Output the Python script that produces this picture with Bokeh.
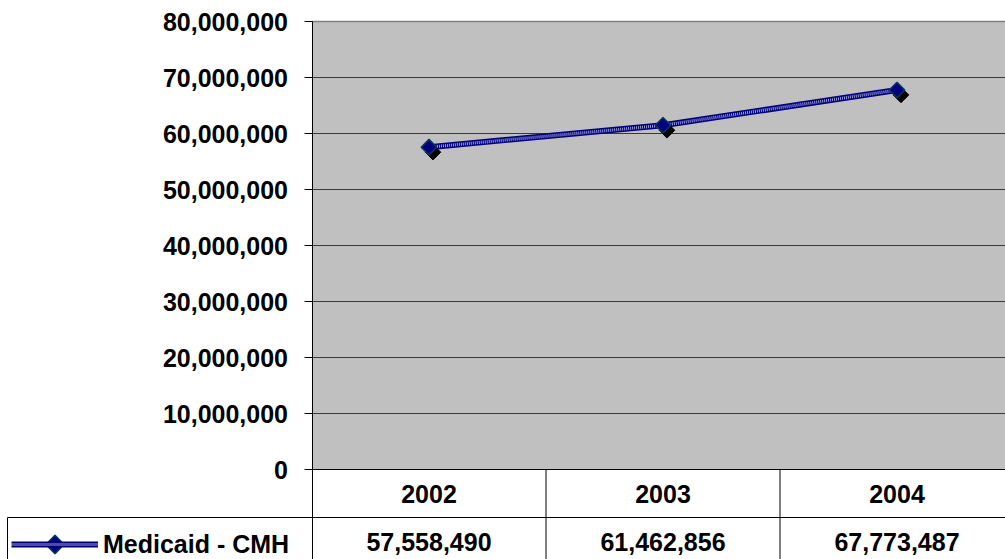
import numpy as np
from bokeh.plotting import figure
from bokeh.models import (Range1d, FixedTicker, NumeralTickFormatter, Legend,
                          LegendItem, ColumnDataSource)
from bokeh.transform import dodge
from bokeh.embed import file_html
from bokeh.resources import INLINE
from bokeh.core.properties import value

# ---------------- data ----------------
years = ["2002", "2003", "2004"]
medicaid_cmh = [57558490, 61462856, 67773487]
y_ticks = [0, 10000000, 20000000, 30000000, 40000000,
           50000000, 60000000, 70000000, 80000000]
series_name = "Medicaid - CMH"

# ---------------- layout constants ----------------
W, H = 1005, 559
TOP = 21                 # px of the 80M line
AXIS_X_PX = 311.5        # px of the value axis
CELL_W = 234.0           # px per category
PX_PER_VAL = 56 / 10_000_000
Y_TOP_TICK = y_ticks[-1]
ZERO_PX = TOP + Y_TOP_TICK * PX_PER_VAL
Y_MAX = ZERO_PX / PX_PER_VAL
Y_MIN = -(H - ZERO_PX) / PX_PER_VAL
X_MIN = -AXIS_X_PX / CELL_W
X_MAX = (W - AXIS_X_PX) / CELL_W


def py(pix):            # pixel row -> value coordinate
    return (ZERO_PX - pix) / PX_PER_VAL


def px(pix):            # pixel column -> category coordinate
    return (pix - AXIS_X_PX) / CELL_W


FONT = "Liberation Sans"
FS = "25px"
NAVY = "#000080"
n = len(years)
xc = [i + 0.5 for i in range(n)]

p = figure(width=W, height=H, x_range=Range1d(X_MIN, X_MAX),
           y_range=Range1d(Y_MIN, Y_MAX), output_backend="svg",
           toolbar_location=None, x_axis_location=None,
           min_border_left=0, min_border_right=0, min_border_top=0,
           min_border_bottom=0, outline_line_color=None,
           background_fill_color="white", border_fill_color="white")
p.grid.visible = False

ax = p.yaxis[0]
ax.ticker = FixedTicker(ticks=y_ticks)
ax.formatter = NumeralTickFormatter(format="0,0")
ax.fixed_location = 0
ax.bounds = (Y_MIN, Y_TOP_TICK)
ax.major_tick_out = 8
ax.major_tick_in = 0
ax.minor_tick_out = 0
ax.minor_tick_in = 0
ax.axis_line_color = "black"
ax.major_tick_line_color = "black"
ax.major_label_text_font = FONT
ax.major_label_text_font_style = "bold"
ax.major_label_text_font_size = FS
ax.major_label_text_color = "black"
ax.major_label_standoff = 16

# plot area
p.quad(left=0, right=n, bottom=0, top=Y_TOP_TICK, fill_color="#C0C0C0", line_color=None)
inner = y_ticks[1:-1]
p.segment(x0=[0] * len(inner), x1=[n] * len(inner), y0=inner, y1=inner,
          line_color="#3a3a3a", line_width=1)
p.segment(x0=[0], x1=[n], y0=[Y_TOP_TICK], y1=[Y_TOP_TICK], line_color="#808080", line_width=1.5)

# data table lines
p.segment(x0=[0], x1=[n], y0=[0], y1=[0], line_color="black", line_width=1)
p.segment(x0=[px(7)], x1=[n], y0=[py(517)], y1=[py(517)], line_color="black", line_width=1)
p.segment(x0=list(range(1, n + 1)), x1=list(range(1, n + 1)),
          y0=[0] * n, y1=[Y_MIN] * n, line_color="black", line_width=1)
p.segment(x0=[px(7)], x1=[px(7)], y0=[py(517)], y1=[Y_MIN], line_color="black", line_width=1)

# table texts
p.text(x=xc, y=[py(493)] * n, text=years, text_align="center", text_baseline="middle",
       text_font=value(FONT), text_font_style="bold", text_font_size=FS, text_color="black")
p.text(x=xc, y=[py(541.5)] * n, text=["{:,}".format(v) for v in medicaid_cmh],
       text_align="center", text_baseline="middle",
       text_font=value(FONT), text_font_style="bold", text_font_size=FS, text_color="black")

# series
src = ColumnDataSource(dict(x=xc, y=medicaid_cmh))
l1 = p.line("x", "y", source=src, line_color=NAVY, line_width=6)
l2 = p.line("x", "y", source=src, line_color="white", line_width=3, line_dash="1 1", line_alpha=0.6)
p.scatter(x=dodge("x", 4 / CELL_W), y=dodge("y", -5 / PX_PER_VAL), source=src,
          marker="square", angle=np.pi / 4, size=11, fill_color="black", line_color="black")
mk = p.scatter("x", "y", source=src, marker="square", angle=np.pi / 4, size=11,
               fill_color=NAVY, line_color="#0a3a5a", line_width=1.5)

# legend (label + line sample via Legend; diamond key drawn at the key's centre)
legend = Legend(items=[LegendItem(label=series_name, renderers=[l1, l2])],
                location=(11, 0), glyph_width=87, glyph_height=30, label_height=30,
                label_standoff=5, padding=0, margin=0, spacing=0,
                border_line_color=None, background_fill_alpha=0,
                label_text_font=FONT, label_text_font_style="bold",
                label_text_font_size=FS, label_text_color="black")
p.add_layout(legend)
p.scatter(x=[px(11 + 87 / 2)], y=[py(H - 15)], marker="square", angle=np.pi / 4, size=13,
          fill_color=NAVY, line_color="#0a3a5a", line_width=1.5)

open("out.html", "w").write(file_html(p, INLINE))
